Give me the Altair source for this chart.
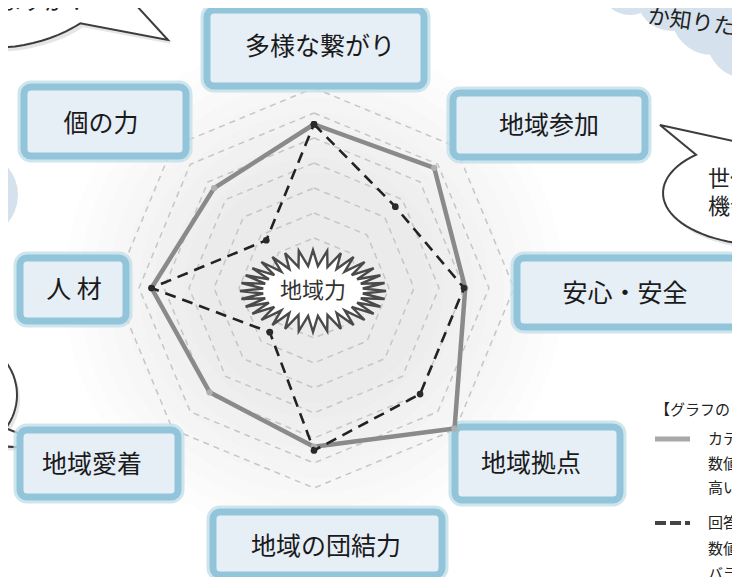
import math
import altair as alt
import pandas as pd

# ---------------- data ----------------
axis_labels = ["多様な繋がり", "地域参加", "安心・安全", "地域拠点",
               "地域の団結力", "地域愛着", "人 材", "個の力"]
category_values = [6.55, 6.8, 6.05, 7.95, 6.35, 5.9, 6.5, 5.65]   # solid grey line
answer_values = [6.55, 4.6, 6.0, 6.0, 6.5, 2.5, 6.5, 2.7]          # dashed black line
ring_levels = [1, 2, 3, 4, 5, 6, 7, 8]
center_label = "地域力"
legend_title = "【グラフの"
legend_solid_lines = ["カテ", "数値", "高い"]
legend_dash_lines = ["回答", "数値", "バラ"]
bubble_texts = ["ますか？", "か知りた", "世代", "機会"]

# ---------------- layout ----------------
W, H = 724, 569          # plot area = page minus 8px margins
CX, CY = 314, 288        # radar centre (page pixels)
UNIT = 25                # pixels per level

box_x1 = [207, 453, 517, 455, 213, 20, 20, 24]
box_x2 = [424, 645, 738, 620, 442, 178, 126, 186]
box_y1 = [10, 93, 258, 427, 512, 430, 258, 87]
box_y2 = [86, 157, 327, 500, 575, 497, 321, 156]
text_x = [320, 549, 625, 531, 326, 92, 74, 101]
text_y = [47, 126, 294, 464, 547, 465, 290, 124]

XS = alt.Scale(domain=[8, 8 + W], nice=False, zero=False)
YS = alt.Scale(domain=[8 + H, 8], nice=False, zero=False)
FONT = "Noto Sans CJK JP"


def X(f="x"):
    return alt.X(f"{f}:Q", scale=XS, axis=None)


def Y(f="y"):
    return alt.Y(f"{f}:Q", scale=YS, axis=None)


def polar(ch):
    return ch.transform_calculate(
        x=f"{CX} + datum.value*{UNIT}*sin(datum.idx*PI/4)",
        y=f"{CY} - datum.value*{UNIT}*cos(datum.idx*PI/4)",
    )


def path_from(points):
    return "M " + " L ".join(f"{px:.1f} {py:.1f}" for px, py in points) + " Z"


def bubble_path(ax, ay, cx, cy, rx, ry, a0, a1, tip, n=80):
    pts = []
    for i in range(n + 1):
        a = math.radians(a0 + (a1 - a0) * i / n)
        pts.append((cx + rx * math.cos(a) - ax, cy + ry * math.sin(a) - ay))
    pts.append((tip[0] - ax, tip[1] - ay))
    return path_from(pts)


layers = []

# soft grey glow behind radar
diams = [500, 470, 440, 410, 380, 350, 320, 290, 260, 230]
glow = pd.DataFrame({"x": [CX] * len(diams), "y": [CY] * len(diams),
                     "s": [d * d for d in diams]})
layers.append(alt.Chart(glow).mark_point(shape="circle", filled=True, fill="black",
                                         opacity=0.009, strokeWidth=0)
              .encode(x=X(), y=Y(), size=alt.Size("s:Q", scale=None)))

# clouds (light blue)
cloud = pd.DataFrame({"x": [630, 672, 712, 748, 600, -25],
                      "y": [-15, -5, 14, 37, -20, 195],
                      "d": [60, 72, 82, 84, 50, 86]})
cloud["s"] = cloud["d"] ** 2
layers.append(alt.Chart(cloud).mark_point(shape="circle", filled=True, fill="#d5e1ec",
                                          opacity=1, strokeWidth=0)
              .encode(x=X(), y=Y(), size=alt.Size("s:Q", scale=None)))

# white speech bubbles with outline
bubbles = [
    bubble_path(0, 0, -10, -40, 130, 88, 46, 375, (168, 40)),
    bubble_path(700, 190, 765, 193, 102, 52, -104, 227.5, (660, 125)),
    bubble_path(0, 400, -45, 395, 62, 58, 60, 395, (60, 450)),
]
anchors = [(0, 0), (700, 190), (0, 400)]
for path, (ax, ay) in zip(bubbles, anchors):
    layers.append(alt.Chart(pd.DataFrame({"x": [ax + 3], "y": [ay + 4]}))
                  .mark_point(shape=path, size=4, filled=True, fill="black",
                              opacity=0.10, strokeWidth=0)
                  .encode(x=X(), y=Y()))
    layers.append(alt.Chart(pd.DataFrame({"x": [ax], "y": [ay]}))
                  .mark_point(shape=path, size=4, filled=True, fill="white",
                              stroke="#3c3c3c", strokeWidth=2, opacity=1)
                  .encode(x=X(), y=Y()))

# bubble texts
btext = pd.DataFrame({"t": bubble_texts, "x": [0, 648, 708, 708],
                      "y": [2, 16, 179, 207], "a": [0, 8, 0, 0]})
for i, r in btext.iterrows():
    layers.append(alt.Chart(btext.iloc[[i]]).mark_text(
        font=FONT, fontSize=22, color="#222", align="left", baseline="middle",
        angle=float(r["a"])).encode(x=X(), y=Y(), text="t:N"))

# dashed rings
ring_rows = [{"level": lv, "idx": i, "value": lv} for lv in ring_levels for i in range(9)]
ring_df = pd.DataFrame(ring_rows)
layers.append(polar(alt.Chart(ring_df)).mark_line(
    stroke="#c6c6c6", strokeWidth=1.5, strokeDash=[6, 5])
    .encode(x=X(), y=Y(), order="idx:Q", detail="level:N"))

# label boxes
boxes = pd.DataFrame({"x1": box_x1, "x2": box_x2, "y1": box_y1, "y2": box_y2,
                      "label": axis_labels, "tx": text_x, "ty": text_y})
boxes["ox1"] = boxes["x1"] - 3
boxes["ox2"] = boxes["x2"] + 3
boxes["oy1"] = boxes["y1"] - 3
boxes["oy2"] = boxes["y2"] + 3
layers.append(alt.Chart(boxes).mark_rect(cornerRadius=10, fill=None, stroke="#c3dfea",
                                         strokeWidth=7, opacity=0.8)
              .encode(x=X("ox1"), x2="ox2:Q", y=Y("oy1"), y2="oy2:Q"))
layers.append(alt.Chart(boxes).mark_rect(cornerRadius=7, fill="#e6eef6", stroke="#92c5d9",
                                         strokeWidth=7)
              .encode(x=X("x1"), x2="x2:Q", y=Y("y1"), y2="y2:Q"))
layers.append(alt.Chart(boxes).mark_text(font=FONT, fontSize=25, color="#1a1a1a",
                                         baseline="middle")
              .encode(x=X("tx"), y=Y("ty"), text="label:N"))

# radar series
rows = []
for name, vals in [("category", category_values), ("answer", answer_values)]:
    for i in range(9):
        rows.append({"series": name, "idx": i, "value": vals[i % 8], "label": axis_labels[i % 8]})
radar = pd.DataFrame(rows)

solid = polar(alt.Chart(radar).transform_filter(alt.datum.series == "category"))
dashed = polar(alt.Chart(radar).transform_filter(alt.datum.series == "answer"))
layers.append(solid.mark_line(stroke="#8a8a8a", strokeWidth=4.5, strokeJoin="round")
              .encode(x=X(), y=Y(), order="idx:Q"))
layers.append(solid.mark_point(shape="circle", filled=True, fill="#b0b0b0", size=40,
                               opacity=1, strokeWidth=0)
              .encode(x=X(), y=Y()))
layers.append(dashed.mark_line(stroke="#222", strokeWidth=2.6, strokeDash=[11, 7])
              .encode(x=X(), y=Y(), order="idx:Q"))
layers.append(dashed.mark_point(shape="circle", filled=True, fill="#2a2a2a", size=45,
                                opacity=1, strokeWidth=0)
              .encode(x=X(), y=Y()))

# starburst in centre
n_spikes = 32
spts = []
for k in range(2 * n_spikes):
    t = math.pi * k / n_spikes
    rx, ry = (73, 41) if k % 2 == 0 else (50, 25)
    spts.append((rx * math.cos(t), ry * math.sin(t)))
star_path = path_from(spts)
centre = pd.DataFrame({"x": [CX - 1], "y": [CY + 3], "t": [center_label]})
layers.append(alt.Chart(centre).mark_point(shape=star_path, size=4, filled=True, fill="white",
                                           stroke="#4a4a4a", strokeWidth=2.4, opacity=1)
              .encode(x=X(), y=Y()))
layers.append(alt.Chart(centre).mark_text(font=FONT, fontSize=22, color="#333",
                                          baseline="middle")
              .encode(x=X(), y=Y(), text="t:N"))

# legend (bottom right, partly cut)
leg_text = pd.DataFrame({
    "t": [legend_title] + legend_solid_lines + legend_dash_lines,
    "x": [655] + [708] * 6,
    "y": [410, 439, 464, 488, 523, 549, 574],
})
layers.append(alt.Chart(leg_text).mark_text(font=FONT, fontSize=15, color="#222",
                                            align="left", baseline="middle")
              .encode(x=X(), y=Y(), text="t:N"))
leg_lines = pd.DataFrame({"kind": ["solid", "dash"], "x1": [655, 655], "x2": [690, 690],
                          "y": [439, 523]})
layers.append(alt.Chart(leg_lines).transform_filter(alt.datum.kind == "solid")
              .mark_rule(stroke="#a8a8a8", strokeWidth=5)
              .encode(x=X("x1"), x2="x2:Q", y=Y()))
layers.append(alt.Chart(leg_lines).transform_filter(alt.datum.kind == "dash")
              .mark_rule(stroke="#444", strokeWidth=4, strokeDash=[11, 4])
              .encode(x=X("x1"), x2="x2:Q", y=Y()))

chart = alt.layer(*layers).properties(
    width=W, height=H, autosize=alt.AutoSizeParams(type="none"), padding=0,
    background="white",
).configure_view(stroke=None)

chart.save("out.html", embed_options={"renderer": "svg", "actions": False})
